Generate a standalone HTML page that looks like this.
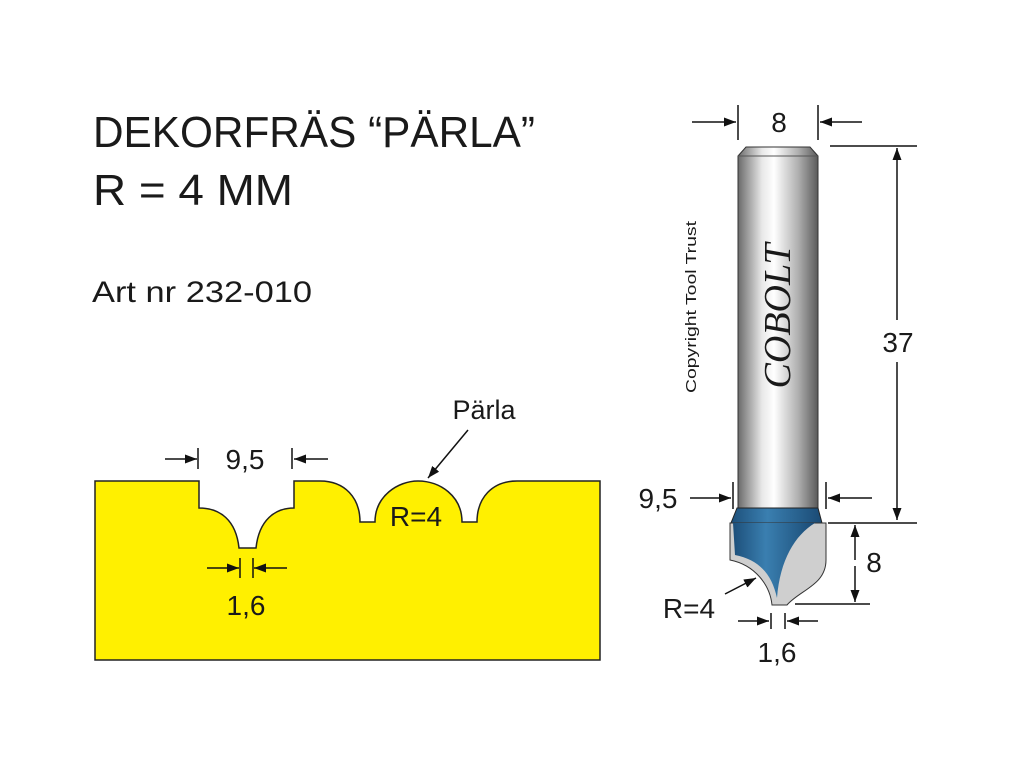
<!DOCTYPE html>
<html><head><meta charset="utf-8"><style>
html,body{margin:0;padding:0;background:#fff;}
svg{display:block;}
text{font-family:"Liberation Sans",sans-serif;fill:#1a1a1a;}
</style></head><body>
<svg width="1024" height="775" viewBox="0 0 1024 775" xmlns="http://www.w3.org/2000/svg">
<defs>
<linearGradient id="shank" x1="0" x2="1" y1="0" y2="0">
<stop offset="0" stop-color="#6a6a6a"/><stop offset="0.3" stop-color="#e8e8e8"/><stop offset="0.45" stop-color="#ffffff"/><stop offset="0.75" stop-color="#b0b0b0"/><stop offset="1" stop-color="#5a5a5a"/>
</linearGradient>
<linearGradient id="blue" x1="0" x2="1" y1="0" y2="0">
<stop offset="0" stop-color="#1d4f7a"/><stop offset="0.4" stop-color="#3a7fb0"/><stop offset="1" stop-color="#1a4a74"/>
</linearGradient>
<marker id="ar" markerWidth="12" markerHeight="9" refX="12" refY="4.5" orient="auto" markerUnits="userSpaceOnUse"><path d="M0,0 L12,4.5 L0,9 z" fill="#111"/></marker>
</defs>

<text x="93" y="147" font-size="44" textLength="442" lengthAdjust="spacingAndGlyphs">DEKORFRÄS “PÄRLA”</text>
<text x="93" y="205" font-size="44" textLength="200" lengthAdjust="spacingAndGlyphs">R = 4 MM</text>
<text x="92" y="302" font-size="30" textLength="220" lengthAdjust="spacingAndGlyphs">Art nr 232-010</text>

<path d="M95,481 L199,481 L199,508 C220,508 236,520 239,548 L256,548 C259,520 275,508 294,508 L294,481 L320,481 C345,481 360,498 360,522 L375,522 C375,496 398,481 418,481 C440,481 462,496 462,522 L477,522 C477,498 492,481 517,481 L600,481 L600,660 L95,660 Z" fill="#fff000" stroke="#222" stroke-width="1.5"/>

<g stroke="#111" stroke-width="1.5" fill="none">
<line x1="165" y1="459" x2="197" y2="459" marker-end="url(#ar)"/>
<line x1="198" y1="448" x2="198" y2="469"/>
<line x1="328" y1="459" x2="294" y2="459" marker-end="url(#ar)"/>
<line x1="292" y1="448" x2="292" y2="469"/>
<line x1="207" y1="568" x2="239" y2="568" marker-end="url(#ar)"/>
<line x1="240" y1="558" x2="240" y2="578"/>
<line x1="287" y1="568" x2="254" y2="568" marker-end="url(#ar)"/>
<line x1="253" y1="558" x2="253" y2="578"/>
<line x1="468" y1="430" x2="428" y2="478" marker-end="url(#ar)"/>
</g>
<text x="245" y="469" font-size="28" text-anchor="middle">9,5</text>
<text x="246" y="615" font-size="28" text-anchor="middle">1,6</text>
<text x="484" y="419" font-size="27" text-anchor="middle">Pärla</text>
<text x="416" y="526" font-size="28" text-anchor="middle">R=4</text>

<path d="M738,156 L746,147 L810,147 L818,156 L818,510 L738,510 Z" fill="url(#shank)" stroke="#333" stroke-width="1"/>
<line x1="738" y1="156" x2="818" y2="156" stroke="#555" stroke-width="1"/>
<path d="M737,508 L818,508 L822,523 L731,523 Z" fill="url(#blue)" stroke="#222" stroke-width="1"/>
<path d="M730,523 L826,523 L826,560 C826,585 800,590 787,605 L772,605 C770,585 755,565 730,560 Z" fill="#cfcfcf" stroke="#333" stroke-width="1"/>
<path d="M733,523 L815,523 C795,535 780,560 777,598 C772,575 760,560 735,555 Z" fill="url(#blue)"/>
<text transform="translate(790,316) rotate(-90)" font-style="italic" font-size="38" text-anchor="middle" style="font-family:'Liberation Serif',serif">COBOLT</text>
<text transform="translate(696,307) rotate(-90)" font-size="15" text-anchor="middle" textLength="172" lengthAdjust="spacingAndGlyphs">Copyright Tool Trust</text>

<g stroke="#111" stroke-width="1.5" fill="none">
<line x1="738" y1="105" x2="738" y2="140"/>
<line x1="818" y1="105" x2="818" y2="140"/>
<line x1="692" y1="122" x2="736" y2="122" marker-end="url(#ar)"/>
<line x1="862" y1="122" x2="820" y2="122" marker-end="url(#ar)"/>
<line x1="830" y1="146" x2="917" y2="146"/>
<line x1="897" y1="320" x2="897" y2="148" marker-end="url(#ar)"/>
<line x1="897" y1="362" x2="897" y2="520" marker-end="url(#ar)"/>
<line x1="828" y1="523" x2="917" y2="523"/>
<line x1="733" y1="482" x2="733" y2="509"/>
<line x1="826" y1="482" x2="826" y2="509"/>
<line x1="690" y1="498" x2="731" y2="498" marker-end="url(#ar)"/>
<line x1="872" y1="498" x2="828" y2="498" marker-end="url(#ar)"/>
<line x1="855" y1="560" x2="855" y2="525" marker-end="url(#ar)"/>
<line x1="855" y1="566" x2="855" y2="602" marker-end="url(#ar)"/>
<line x1="795" y1="604" x2="870" y2="604"/>
<line x1="771" y1="613" x2="771" y2="629"/>
<line x1="785" y1="613" x2="785" y2="629"/>
<line x1="738" y1="621" x2="769" y2="621" marker-end="url(#ar)"/>
<line x1="818" y1="621" x2="787" y2="621" marker-end="url(#ar)"/>
<line x1="725" y1="594" x2="756" y2="578" marker-end="url(#ar)"/>
</g>
<text x="779" y="132" font-size="28" text-anchor="middle">8</text>
<text x="898" y="352" font-size="28" text-anchor="middle">37</text>
<text x="658" y="508" font-size="28" text-anchor="middle">9,5</text>
<text x="874" y="572" font-size="28" text-anchor="middle">8</text>
<text x="689" y="618" font-size="28" text-anchor="middle">R=4</text>
<text x="777" y="662" font-size="28" text-anchor="middle">1,6</text>
</svg>
</body></html>
